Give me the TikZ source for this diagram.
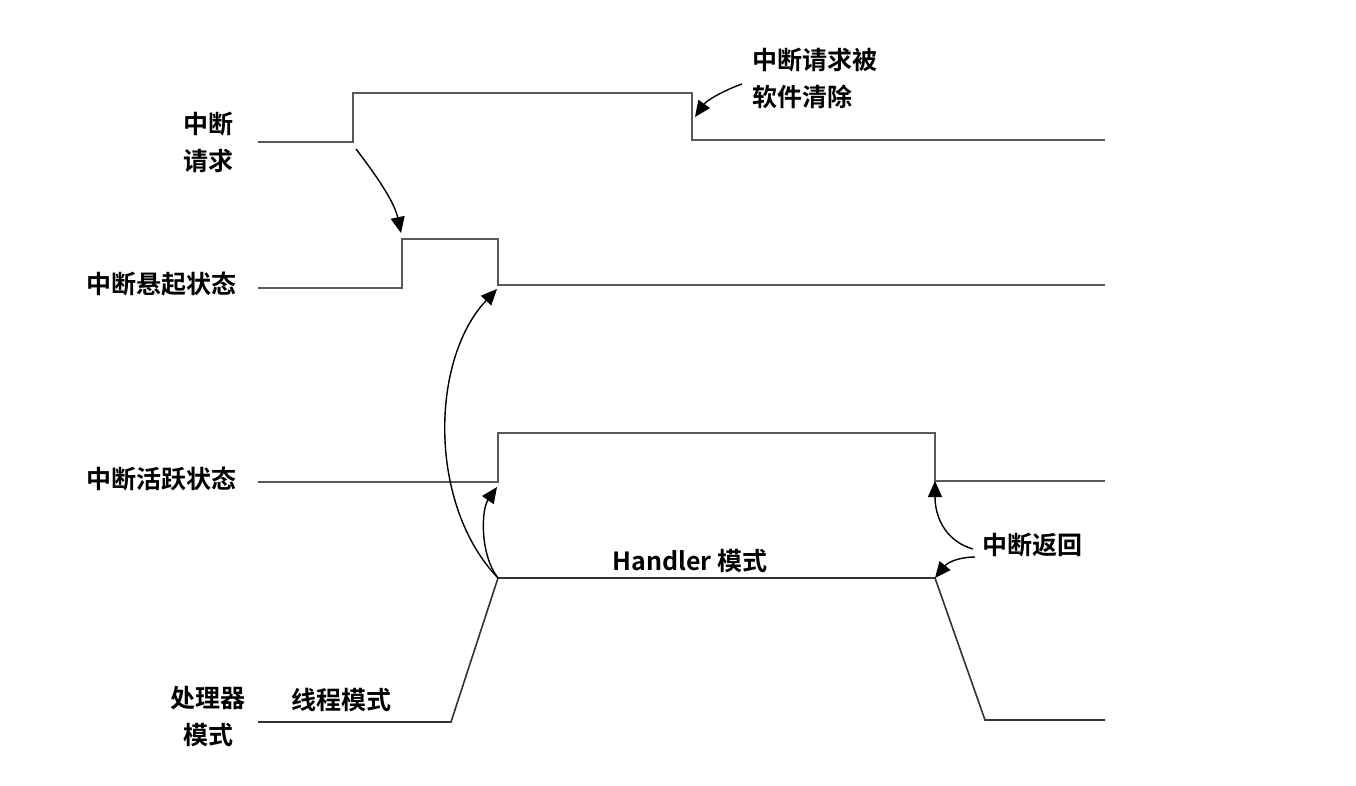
\documentclass[tikz,border=0pt]{standalone}
\usepackage{fontspec}
\newfontfamily\cjk{Noto Sans CJK SC}[BoldFont={Noto Sans CJK SC Bold}]
\usetikzlibrary{arrows.meta}
\begin{document}
\begin{tikzpicture}[x=0.5pt,y=-0.5pt,
  signal/.style={draw=black!65,line width=0.8pt},
  cause/.style={draw=black,line width=0.7pt,-{Triangle[length=8pt,width=7pt]}},
  lbl/.style={font=\cjk\bfseries\fontsize{12.5}{18.5}\selectfont,inner sep=0pt,align=center}]
\useasboundingbox (0,0) rectangle (1356,786);

% labels
\node[lbl] (req)  at (208,142) {中断\\请求};
\node[lbl,anchor=east] (pend) at (237,284) {中断悬起状态};
\node[lbl,anchor=east] (act)  at (237,479) {中断活跃状态};
\node[lbl] (mode) at (208,716) {处理器\\模式};
\node[lbl] (thr)  at (341,700) {线程模式};
\node[lbl] (hdl)  at (690,561) {Handler 模式};
\node[lbl] (ret)  at (1032,545) {中断返回};
\node[lbl,align=left,anchor=west] (clr) at (752,78) {中断请求被\\软件清除};

% interrupt request line
\coordinate (r0) at (258,142);
\coordinate (r1) at (353,142);
\coordinate (r2) at (353,93);
\coordinate (r3) at (692,93);
\coordinate (r4) at (692,140);
\coordinate (r5) at (1105,140);
\draw[signal] (r0) -- (r1) -- (r2) -- (r3) -- (r4) -- (r5);

% pending state line
\coordinate (p0) at (258,288);
\coordinate (p1) at (402,288);
\coordinate (p2) at (402,239);
\coordinate (p3) at (498,239);
\coordinate (p4) at (498,285);
\coordinate (p5) at (1105,285);
\draw[signal] (p0) -- (p1) -- (p2) -- (p3) -- (p4) -- (p5);

% active state line
\coordinate (a0) at (258,482);
\coordinate (a1) at (498,482);
\coordinate (a2) at (498,433);
\coordinate (a3) at (935,433);
\coordinate (a4) at (935,481);
\coordinate (a5) at (1105,481);
\draw[signal] (a0) -- (a1) -- (a2) -- (a3) -- (a4) -- (a5);

% processor mode line
\coordinate (m0) at (258,722);
\coordinate (m1) at (451,722);
\coordinate (m2) at (498,578);
\coordinate (m3) at (935,578);
\coordinate (m4) at (985,720);
\coordinate (m5) at (1105,720);
\draw[signal,draw=black!80] (m0) -- (m1) -- (m2) -- (m3) -- (m4) -- (m5);

% cause/effect arrows
\coordinate (rq) at (356,149);
\coordinate (pd) at (401,233);
\draw[cause] (rq) .. controls (372,170) and (394,200) .. (pd);

\coordinate (pe) at (497,289);
\draw[cause] (m2) .. controls (428,505) and (430,360) .. (pe);

\coordinate (ae) at (497,487);
\draw[cause] (m2) .. controls (480,555) and (481,510) .. (ae);

\coordinate (rs1) at (973,549);
\coordinate (rs2) at (975,557);
\draw[cause] (rs1) .. controls (948,542) and (935,520) .. (a4);
\draw[cause] (rs2) .. controls (960,557) and (948,562) .. (m3);

\coordinate (cs) at (742,84);
\coordinate (ce) at (695,117);
\draw[cause] (cs) .. controls (725,90) and (707,100) .. (ce);
\end{tikzpicture}
\end{document}
